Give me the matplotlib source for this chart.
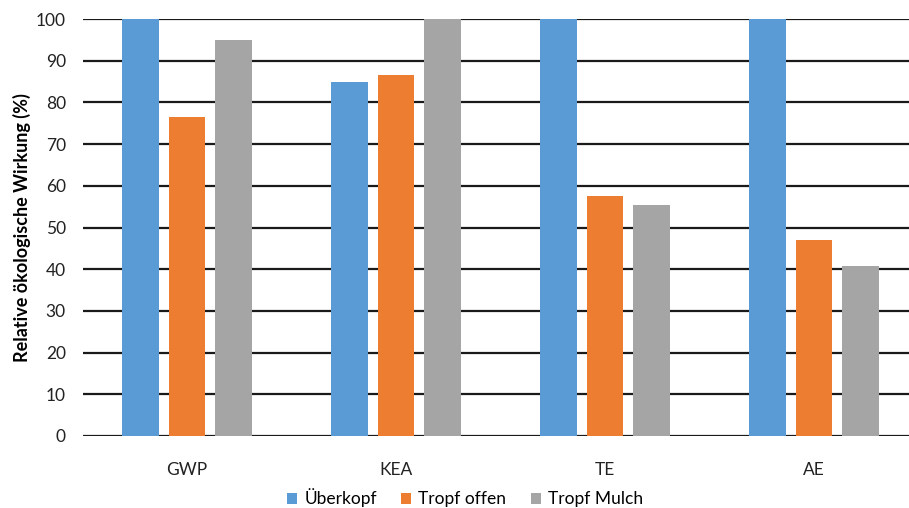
import matplotlib
matplotlib.use("Agg")
import matplotlib.pyplot as plt
import numpy as np

categories = ["GWP", "KEA", "TE", "AE"]
series_names = ["Überkopf", "Tropf offen", "Tropf Mulch"]
ueberkopf = [100.0, 84.8, 100.0, 100.0]
tropf_offen = [76.5, 86.6, 57.6, 47.1]
tropf_mulch = [95.0, 100.0, 55.3, 40.8]
colors = ["#5B9BD5", "#ED7D31", "#A5A5A5"]

plt.rcParams["font.family"] = ["Lato", "DejaVu Sans"]

W, H = 909, 508
left_px, right_px, top_px, bottom_px = 82.5, 918.5, 19, 436

fig = plt.figure(figsize=(W / 100, H / 100), dpi=100)
# plot area runs a little past the right edge of the canvas
ax = fig.add_axes([left_px / W, 1 - bottom_px / H, (right_px - left_px) / W, (bottom_px - top_px) / H])

x = np.arange(len(categories))
width = 0.177
step = 0.224
for i, (vals, name, col) in enumerate(zip([ueberkopf, tropf_offen, tropf_mulch], series_names, colors)):
    ax.bar(x + (i - 1) * step, vals, width, color=col, label=name, zorder=3)

ax.set_xlim(-0.5, len(categories) - 0.5)
ax.set_ylim(0, 100)
ax.set_yticks(np.arange(0, 101, 10))
ax.yaxis.grid(True, color="#1a1a1a", linewidth=1.6, zorder=0)
for s in ["top", "right", "left", "bottom"]:
    ax.spines[s].set_visible(False)
ax.tick_params(axis="both", length=0, labelsize=12.5, colors="#222222")
ax.tick_params(axis="y", pad=12)
ax.tick_params(axis="x", pad=19)
ax.set_xticks(x)
ax.set_xticklabels(categories)
ax.set_ylabel("Relative ökologische Wirkung (%)", fontsize=13, fontweight="bold",
              va="center")
ax.yaxis.set_label_coords((22 - left_px) / (right_px - left_px), 0.5)

ax.legend(loc="center", bbox_to_anchor=((465 - left_px) / (right_px - left_px), -(498 - bottom_px) / (bottom_px - top_px)),
          ncol=3, frameon=False, fontsize=12.5, handlelength=0.6, handleheight=0.6,
          handletextpad=0.4, columnspacing=1.4)

fig.savefig("out.png", dpi=100)
